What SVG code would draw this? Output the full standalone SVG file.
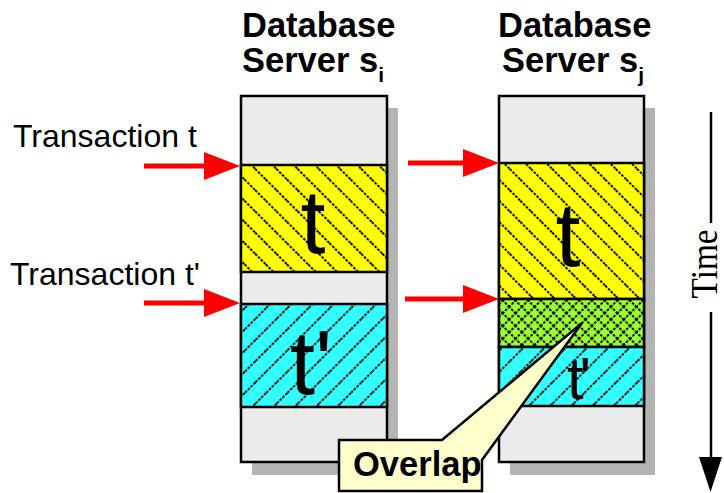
<svg xmlns="http://www.w3.org/2000/svg" width="724" height="493" viewBox="0 0 724 493">
  <style>
    .hdr { font-family: "Liberation Sans", Arial, sans-serif; font-weight: bold; font-size: 34.5px; fill: #000; }
    .lbl { font-family: "Liberation Sans", Arial, sans-serif; font-size: 32px; fill: #000; }
    .big { font-family: "Liberation Sans", Arial, sans-serif; font-size: 90px; fill: #000; text-anchor: middle; }
    .mid { font-family: "Liberation Sans", Arial, sans-serif; font-size: 60px; fill: #000; text-anchor: middle; }
    .shadow { fill: #b4b4b4; }
    .frame { fill: #ebebeb; stroke: #000; stroke-width: 2.5; }
    .band { stroke: #000; stroke-width: 2.5; }
    .red { stroke: #ff0000; stroke-width: 5; fill: none; }
    .axis { stroke: #000; stroke-width: 2.5; fill: none; }
    .hl { stroke: #000; stroke-width: 2; stroke-dasharray: 2.5 1.5; }
  </style>
  <defs>
    <pattern id="hatchBack" patternUnits="userSpaceOnUse" width="15" height="15" patternTransform="rotate(-45)">
      <rect width="15" height="15" fill="#ffff00"/>
      <line class="hl" x1="1" y1="0" x2="1" y2="15"/>
    </pattern>
    <pattern id="hatchFwd" patternUnits="userSpaceOnUse" width="15" height="15" patternTransform="rotate(45)">
      <rect width="15" height="15" fill="#33ffff"/>
      <line class="hl" x1="1" y1="0" x2="1" y2="15"/>
    </pattern>
    <pattern id="crossHatch" patternUnits="userSpaceOnUse" width="9" height="9" patternTransform="rotate(45)">
      <rect width="9" height="9" fill="#99ff33"/>
      <line class="hl" x1="1" y1="0" x2="1" y2="9" stroke-width="1.6"/>
      <line class="hl" x1="0" y1="1" x2="9" y2="1" stroke-width="1.6"/>
    </pattern>
    <marker id="redHead" markerUnits="userSpaceOnUse" viewBox="0 0 36 28" markerWidth="36" markerHeight="28" refX="6" refY="14" orient="auto">
      <path d="M0,0 L36,14 L0,28 Z" fill="#ff0000"/>
    </marker>
  </defs>

  <!-- column headings -->
  <text class="hdr" x="242" y="37">Database</text>
  <text class="hdr" x="242" y="72">Server s<tspan font-size="21" dy="10">i</tspan></text>
  <text class="hdr" x="498" y="37">Database</text>
  <text class="hdr" x="502" y="72">Server s<tspan font-size="21" dy="10">j</tspan></text>

  <!-- server s_i -->
  <g id="server-i">
    <rect class="shadow" x="252" y="108" width="146" height="367"/>
    <rect class="frame" x="241" y="96" width="146" height="366"/>
    <rect class="band" x="241" y="165" width="146" height="107" fill="url(#hatchBack)"/>
    <rect class="band" x="241" y="304" width="146" height="103" fill="url(#hatchFwd)"/>
    <text class="big" x="313" y="253">t</text>
    <text class="big" x="311" y="394">t'</text>
  </g>

  <!-- server s_j -->
  <g id="server-j">
    <rect class="shadow" x="510" y="108" width="145" height="367"/>
    <rect class="frame" x="499" y="96" width="145" height="366"/>
    <rect class="band" x="499" y="163" width="145" height="136" fill="url(#hatchBack)"/>
    <rect class="band" x="499" y="299" width="145" height="48" fill="url(#crossHatch)"/>
    <rect class="band" x="499" y="347" width="145" height="59" fill="url(#hatchFwd)"/>
    <text class="big" x="568" y="266">t</text>
    <text class="mid" x="577" y="399" letter-spacing="-4">t'</text>
  </g>

  <!-- incoming transaction labels -->
  <g id="label-t">
    <text class="lbl" x="13" y="147">Transaction t</text>
  </g>
  <g id="label-t-prime">
    <text class="lbl" x="10" y="285">Transaction t'</text>
  </g>

  <!-- callout -->
  <g id="overlap">
    <path d="M339,440 L442,440 L582,323 L482,460 L482,491 L339,491 Z" fill="#ffffcc" stroke="#000" stroke-width="2.5" stroke-linejoin="miter"/>
    <text class="hdr" x="353" y="476" font-size="29">Overlap</text>
  </g>

  <!-- connectors -->
  <g id="connectors">
    <line class="red" x1="144" y1="166" x2="210" y2="166" marker-end="url(#redHead)"/>
    <line class="red" x1="144" y1="303" x2="210" y2="303" marker-end="url(#redHead)"/>
    <line class="red" x1="408" y1="163" x2="469" y2="163" marker-end="url(#redHead)"/>
    <line class="red" x1="405" y1="299" x2="469" y2="299" marker-end="url(#redHead)"/>
    <line class="axis" x1="711" y1="112" x2="711" y2="223"/>
    <line class="axis" x1="711" y1="312" x2="711" y2="460"/>
    <path d="M699,457 L722,457 L710.5,492 Z" fill="#000"/>
  </g>

  <g id="time-label">
    <text transform="translate(717,264) rotate(-90)" x="0" y="0" text-anchor="middle" textLength="69" lengthAdjust="spacingAndGlyphs" font-family="'Liberation Serif', 'Times New Roman', serif" font-size="38">Time</text>
  </g>
</svg>
